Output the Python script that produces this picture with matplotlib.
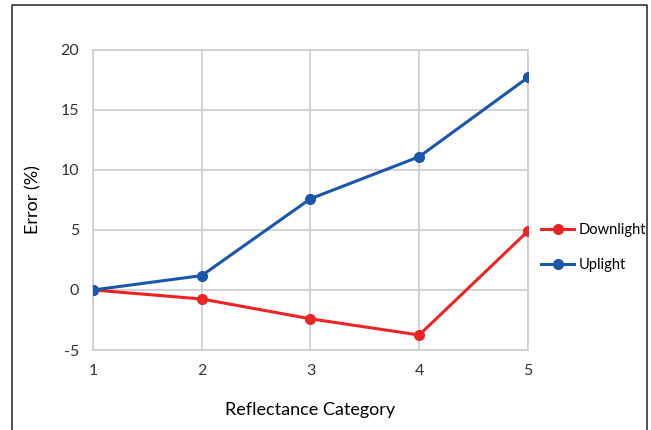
import matplotlib.pyplot as plt
from matplotlib.lines import Line2D

plt.rcParams['font.family'] = ['Lato', 'DejaVu Sans']
plt.rcParams['axes.unicode_minus'] = False

categories = [1, 2, 3, 4, 5]
downlight = [0, -0.75, -2.4, -3.75, 4.9]
uplight = [0, 1.2, 7.6, 11.1, 17.7]

fig = plt.figure(figsize=(6.51, 4.30), dpi=100)
ax = fig.add_axes([0.1429, 0.186, 0.668, 0.698])

# outer frame (open at the bottom)
fig.add_artist(Line2D([0.018, 0.018, 0.994, 0.994], [0.0, 0.988, 0.988, 0.0],
                      transform=fig.transFigure, color='#333333', lw=1.2))

ax.plot(categories, downlight, color='#ee2424', lw=2.2, marker='o', ms=7,
        label='Downlight', zorder=3)
ax.plot(categories, uplight, color='#1a56aa', lw=2.2, marker='o', ms=7,
        label='Uplight', zorder=4)

ax.set_xlim(1, 5)
ax.set_ylim(-5, 20)
ax.set_xticks(categories)
ax.set_yticks([-5, 0, 5, 10, 15, 20])
ax.grid(True, color='#cccccc', lw=1.2)
for s in ax.spines.values():
    s.set_color('#cccccc')
    s.set_linewidth(1.2)
ax.tick_params(length=0, labelsize=11.5, colors='#333333', pad=10)
ax.set_xlabel('Reflectance Category', fontsize=13, labelpad=17)
ax.set_ylabel('Error (%)', fontsize=13, labelpad=14)

ax.legend(loc='center left', bbox_to_anchor=(1.03, 0.341), frameon=False,
          fontsize=10.5, handlelength=2.3, labelspacing=1.45, handletextpad=0.3,
          borderaxespad=0, borderpad=0)

fig.savefig('out.png', dpi=100)
